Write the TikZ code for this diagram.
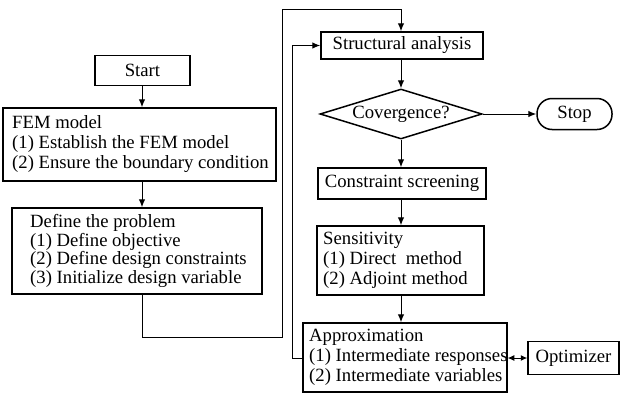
\documentclass[tikz,border=0pt]{standalone}
\usepackage{fontspec}
\setmainfont{Liberation Serif}
\usetikzlibrary{shapes.geometric,arrows.meta,calc}
\begin{document}
\begin{tikzpicture}[x=1pt,y=-1pt,
  box/.style={draw,line width=1.5pt,inner sep=0pt,font=\fontsize{18.7}{20}\selectfont},
  txt/.style={align=left,inner sep=0pt,font=\fontsize{18.7}{20}\selectfont},
  link/.style={line width=1pt,-{Latex[length=8pt,width=6.5pt]}},
  dlink/.style={line width=1pt,{Latex[length=6.5pt,width=6pt]}-{Latex[length=6.5pt,width=6pt]}}]
\useasboundingbox (0,0) rectangle (624,394);
% left column
\node[box,minimum width=95pt,minimum height=30pt] (start) at (142.5,70.5) {Start};
\node[box,minimum width=273pt,minimum height=73pt] (fem) at (139.5,144.5) {};
\node[txt,anchor=west] (femt) at (12,144.5) {FEM model\\(1) Establish the FEM model\\(2) Ensure the boundary condition};
\node[box,minimum width=250pt,minimum height=86pt] (def) at (137,251) {};
\node[txt,anchor=west,font=\fontsize{18.7}{18.5}\selectfont] (deft) at (30,251) {Define the problem\\(1) Define objective\\(2) Define design constraints\\(3) Initialize design variable};
% right column
\node[box,minimum width=162pt,minimum height=27pt] (sa) at (402,45.5) {Structural analysis};
\node[draw,line width=1.5pt,diamond,shape aspect=3.2,inner sep=0pt,minimum width=162pt,minimum height=50pt,font=\fontsize{18.7}{20}\selectfont] (dia) at (401,114) {Covergence?};
\node[box,rounded corners=15pt,minimum width=75pt,minimum height=31pt] (stop) at (574.5,114) {Stop};
\node[box,minimum width=168pt,minimum height=31pt] (cs) at (402,183.5) {Constraint screening};
\node[box,minimum width=167pt,minimum height=69pt] (sen) at (400.5,260.5) {};
\node[txt,anchor=west] (sent) at (323,260.5) {Sensitivity\\(1) Direct\ \ method\\(2) Adjoint method};
\node[box,minimum width=204pt,minimum height=69pt] (app) at (405,357.5) {};
\node[txt,anchor=west] (appt) at (309,357.5) {Approximation\\(1) Intermediate responses\\(2) Intermediate variables};
\node[box,minimum width=91pt,minimum height=33pt] (opt) at (573.5,358) {Optimizer};
% connector corners
\coordinate (c1) at (142,337);
\coordinate (c2) at (282,337);
\coordinate (c3) at (282,9);
\coordinate (c4) at (401,9);
\coordinate (c5) at (292,358);
\coordinate (c6) at (292,45.5);
% connectors
\draw[link] (142,0 |- start.south) -- (142,0 |- fem.north);
\draw[link] (142,0 |- fem.south) -- (142,0 |- def.north);
\draw[link] (142,0 |- def.south) -- (c1) -- (c2) -- (c3) -- (c4) -- (c4 |- sa.north);
\draw[link] (dia.north |- sa.south) -- (dia.north);
\draw[link] (dia.east) -- (stop.west);
\draw[link] (dia.south) -- (dia.south |- cs.north);
\draw[link] (dia.south |- cs.south) -- (dia.south |- sen.north);
\draw[link] (dia.south |- sen.south) -- (dia.south |- app.north);
\draw[link] (c5 -| app.west) -- (c5) -- (c6) -- (sa.west);
\draw[dlink] (c5 -| app.east) -- (c5 -| opt.west);
\end{tikzpicture}
\end{document}
